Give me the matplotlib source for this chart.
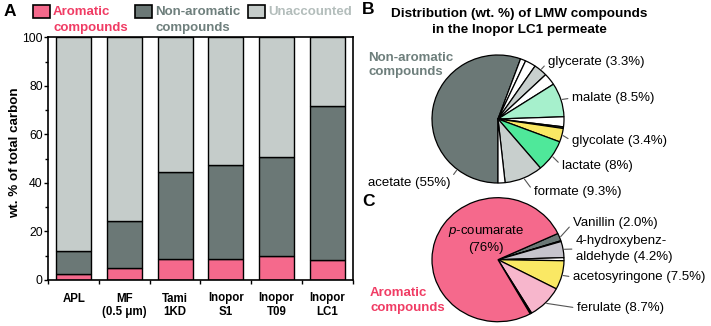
import numpy as np
import matplotlib
matplotlib.use("Agg")
import matplotlib.pyplot as plt
from matplotlib.patches import Rectangle

plt.rcParams['font.family'] = ['Liberation Sans', 'DejaVu Sans']
plt.rcParams['mathtext.fontset'] = 'custom'
plt.rcParams['mathtext.it'] = 'Liberation Sans:italic'
plt.rcParams['mathtext.rm'] = 'Liberation Sans'

# ---- data, panel A (wt. % of total carbon)
samples = ['APL', 'MF\n(0.5 μm)', 'Tami\n1KD', 'Inopor\nS1', 'Inopor\nT09', 'Inopor\nLC1']
aromatic = np.array([2.3, 4.9, 8.7, 8.5, 9.9, 8.2])
non_aromatic = np.array([9.8, 19.3, 35.9, 38.9, 40.6, 63.3])
unaccounted = 100 - aromatic - non_aromatic

# ---- data, panel B (LMW non-aromatics in Inopor LC1 permeate), clockwise from 6 o'clock
lmw_names = ['acetate (55%)', '', '', 'glycerate (3.3%)', '', 'malate (8.5%)', '', '',
             'glycolate (3.4%)', 'lactate (8%)', 'formate (9.3%)', '']
lmw_values = [55, 1.3, 2.6, 3.3, 3.0, 8.5, 2.5, 0.4, 3.4, 8.0, 9.3, 1.7]

# ---- data, panel C (aromatics), clockwise from upper right
aro_names = ['Vanillin (2.0%)', '', '4-hydroxybenz-\naldehyde (4.2%)', '', 'acetosyringone (7.5%)',
             'ferulate (8.7%)', '', '$\\it{p}$-coumarate\n(76%)']
aro_values = [2.0, 0.2, 4.2, 0.8, 7.5, 8.7, 0.4, 76]

PINK = '#F5698C'
RED = '#F03C64'
DARK = '#6B7876'
LIGHT = '#C5CCCA'
DARK_TXT = '#6E7F7C'
LIGHT_TXT = '#B3BDBB'

lmw_colors = [DARK, 'white', 'white', '#C8CFCD', 'white', '#A6F0CC', 'white', DARK,
              '#FAE864', '#4FE89A', '#C8CFCD', 'white']
aro_colors = [DARK, 'black', '#C6C4CC', 'white', '#FAE864', '#F7B6CC', 'black', PINK]

W, H = 711, 326
fig = plt.figure(figsize=(W / 100, H / 100), dpi=100)


def box(x0, y0, x1, y1):
    # pixel box (top-left origin) -> figure fraction rect
    return [x0 / W, 1 - y1 / H, (x1 - x0) / W, (y1 - y0) / H]


def fx(px):
    return px / W


def fy(py):
    return 1 - py / H


# ================= panel A
ax = fig.add_axes(box(48.3, 37.3, 352.7, 280))
x = np.arange(len(samples))
bw = 0.69
kw = dict(width=bw, edgecolor='black', linewidth=1.0)
ax.bar(x, aromatic, color=PINK, **kw)
ax.bar(x, non_aromatic, bottom=aromatic, color=DARK, **kw)
ax.bar(x, unaccounted, bottom=aromatic + non_aromatic, color=LIGHT, **kw)
ax.set_xlim(-0.5, 5.5)
ax.set_ylim(0, 100)
ax.set_yticks(np.arange(0, 101, 20))
ax.set_yticks(np.arange(0, 101, 10), minor=True)
ax.set_xticks(x)
ax.set_xticklabels(samples, fontsize=8.3, fontweight='bold', linespacing=1.22)
ax.set_xticks(np.arange(-0.5, 5.6, 1), minor=True)
ax.tick_params(axis='x', which='major', length=0, pad=9)
ax.tick_params(axis='x', which='minor', length=3, width=1, direction='out')
ax.tick_params(axis='y', which='major', length=3, width=1, labelsize=8.8, pad=1)
ax.tick_params(axis='y', which='minor', length=2, width=1)
for s in ax.spines.values():
    s.set_linewidth(1.2)
ax.set_ylabel('wt. % of total carbon', fontsize=9.6, fontweight='bold')
ax.yaxis.set_label_coords(-0.09, 0.525)

fig.text(fx(4), fy(11), 'A', fontsize=12.5, fontweight='bold', va='center', ha='left')

# legend for panel A, drawn by hand so the patch sits on the first line
leg_items = [(33, 'Aromatic\ncompounds', PINK, RED),
             (135, 'Non-aromatic\ncompounds', DARK, DARK_TXT),
             (248, 'Unaccounted', LIGHT, LIGHT_TXT)]
for px0, txt, fc, tc in leg_items:
    fig.patches.append(Rectangle((fx(px0), fy(17.5)), 17 / W, 12 / H, transform=fig.transFigure,
                                 facecolor=fc, edgecolor='black', linewidth=1.2))
    two = '\n' in txt
    fig.text(fx(px0 + 20), fy(20 if two else 12), txt, color=tc, fontsize=9.5,
             fontweight='bold', va='center', ha='left', linespacing=1.4)

# ================= panel B
axb = fig.add_axes(box(432, 55, 564, 183))
wedges_b, _ = axb.pie(lmw_values, colors=lmw_colors, startangle=-90, counterclock=False,
                      wedgeprops=dict(edgecolor='black', linewidth=0.9))
axb.set_aspect('auto')
axb.set_xlim(-1, 1)
axb.set_ylim(-1, 1)

b_text_pos = {'glycerate (3.3%)': (548, 62, 'left'), 'malate (8.5%)': (572, 98, 'left'),
              'glycolate (3.4%)': (572, 141, 'left'), 'lactate (8%)': (562, 166, 'left'),
              'formate (9.3%)': (534, 192, 'left'), 'acetate (55%)': (450, 183, 'right')}
for w, name in zip(wedges_b, lmw_names):
    if not name:
        continue
    px, py, ha = b_text_pos[name]
    th = np.deg2rad((w.theta1 + w.theta2) / 2)
    if name.startswith('acetate'):
        th = np.deg2rad(-128)
    axb.annotate(name, xy=(1.02 * np.cos(th), 1.02 * np.sin(th)), xycoords='data',
                 xytext=(px, H - py), textcoords='figure pixels', fontsize=9.5,
                 ha=ha, va='center', annotation_clip=False,
                 arrowprops=dict(arrowstyle='-', color='#555555', lw=0.8,
                                 relpos=(1, 0.8) if ha == 'right' else (0, 0.5),
                                 shrinkA=1, shrinkB=0))

fig.text(fx(362), fy(10), 'B', fontsize=12.5, fontweight='bold', va='center', ha='left')
fig.text(fx(519), fy(22), 'Distribution (wt. %) of LMW compounds\nin the Inopor LC1 permeate',
         fontsize=9.7, fontweight='bold', ha='center', va='center', linespacing=1.37)
fig.text(fx(368), fy(65), 'Non-aromatic\ncompounds', color=DARK_TXT, fontsize=9.5,
         fontweight='bold', ha='left', va='center', linespacing=1.3)

# ================= panel C
axc = fig.add_axes(box(432, 197.7, 564, 321.7))
wedges_c, _ = axc.pie(aro_values, colors=aro_colors, startangle=25, counterclock=False,
                      wedgeprops=dict(edgecolor='black', linewidth=0.9))
axc.set_aspect('auto')
axc.set_xlim(-1, 1)
axc.set_ylim(-1, 1)

c_text_pos = {'Vanillin (2.0%)': (573, 223), '4-hydroxybenz-\naldehyde (4.2%)': (576, 249),
              'acetosyringone (7.5%)': (573, 277), 'ferulate (8.7%)': (577, 308)}
for w, name in zip(wedges_c, aro_names):
    if name not in c_text_pos:
        continue
    px, py = c_text_pos[name]
    th = np.deg2rad((w.theta1 + w.theta2) / 2)
    axc.annotate(name, xy=(1.02 * np.cos(th), 1.02 * np.sin(th)), xycoords='data',
                 xytext=(px, H - py), textcoords='figure pixels', fontsize=9.5,
                 ha='left', va='center', linespacing=1.4, annotation_clip=False,
                 arrowprops=dict(arrowstyle='-', color='#555555', lw=0.8,
                                 relpos=(0, 0.5), shrinkA=1, shrinkB=0))

fig.text(fx(486), fy(238.5), aro_names[-1], fontsize=9.5, ha='center', va='center',
         linespacing=1.4)
fig.text(fx(362), fy(202), 'C', fontsize=12.5, fontweight='bold', va='center', ha='left')
fig.text(fx(370), fy(300.5), 'Aromatic\ncompounds', color=RED, fontsize=9.5,
         fontweight='bold', ha='left', va='center', linespacing=1.3)

fig.savefig('out.png', dpi=100)
